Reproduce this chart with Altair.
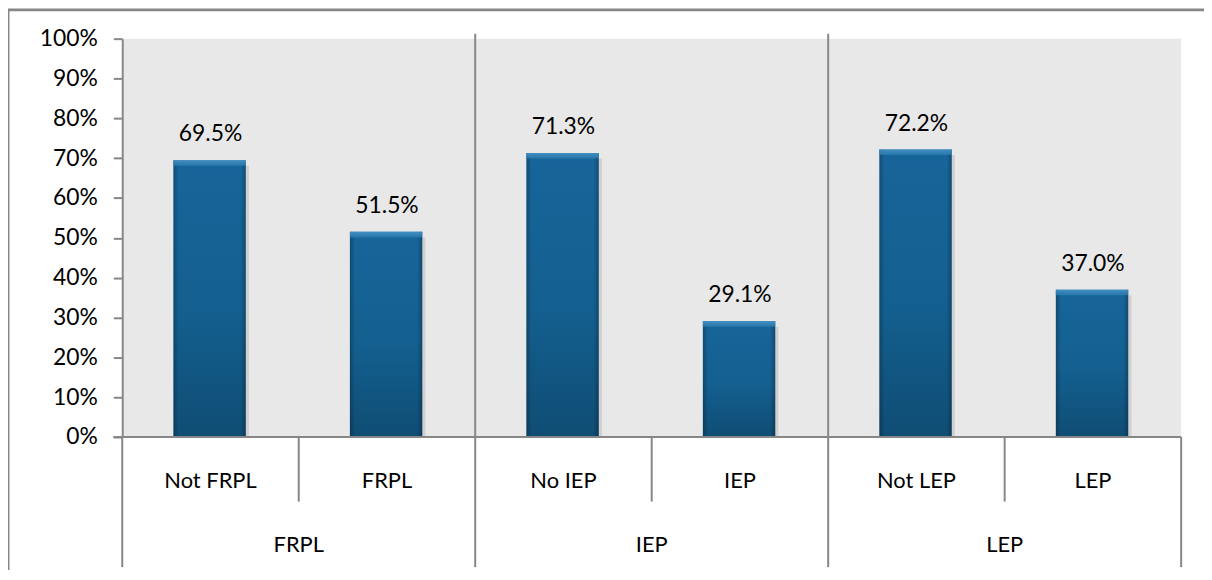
import altair as alt
import pandas as pd

subcats = ["Not FRPL", "FRPL", "No IEP", "IEP", "Not LEP", "LEP"]
values = [0.695, 0.515, 0.713, 0.291, 0.722, 0.370]
groups = ["FRPL", "IEP", "LEP"]
y_ticks = [0, 0.1, 0.2, 0.3, 0.4, 0.5, 0.6, 0.7, 0.8, 0.9, 1.0]

FONT = "Lato"
LINE = "#878787"
W, H = 1066, 401

bars = pd.DataFrame({
    "sub": subcats,
    "value": values,
    "idx": list(range(len(subcats))),
})
bars["lo"] = bars["idx"] + 0.29
bars["hi"] = bars["idx"] + 0.70
bars["slo"] = bars["lo"] + 0.012
bars["shi"] = bars["hi"] + 0.018
bars["mid"] = bars["idx"] + 0.5
bars["bevel"] = bars["value"] - 0.014
bars["zero"] = 0.0

grp = pd.DataFrame({"group": groups, "mid": [1.0, 3.0, 5.0]})
inner_div = pd.DataFrame({"b": [2, 4]})
below_div = pd.DataFrame({"b": [0, 2, 4, 6]})
sub_div = pd.DataFrame({"b": [1, 3, 5]})
edge = pd.DataFrame({"b": [0], "e": [6]})

xs = alt.Scale(domain=[0, 6], nice=False, zero=False)
ys = alt.Scale(domain=[0, 1], nice=False)

YAXIS = alt.Axis(
    values=y_ticks, format=".0%", title=None, grid=False,
    labelFont=FONT, labelFontSize=23, labelColor="#000000",
    domainColor=LINE, domainWidth=2, tickColor=LINE, tickWidth=2,
    tickSize=9, labelPadding=16,
)


def X(f):
    return alt.X(f, scale=xs, axis=None)


def Y(f):
    return alt.Y(f, scale=ys, axis=YAXIS)


base = alt.Chart(bars)

main_grad = alt.Gradient(
    gradient="linear",
    stops=[
        alt.GradientStop(color="#17659a", offset=0),
        alt.GradientStop(color="#135f8f", offset=0.55),
        alt.GradientStop(color="#0f4d74", offset=1),
    ],
    x1=0, x2=0, y1=0, y2=1,
)
side_grad = alt.Gradient(
    gradient="linear",
    stops=[
        alt.GradientStop(color="rgba(0,0,0,0.25)", offset=0),
        alt.GradientStop(color="rgba(0,0,0,0)", offset=0.07),
        alt.GradientStop(color="rgba(0,0,0,0)", offset=0.93),
        alt.GradientStop(color="rgba(0,0,0,0.25)", offset=1),
    ],
    x1=0, x2=1, y1=0, y2=0,
)
bevel_grad = alt.Gradient(
    gradient="linear",
    stops=[
        alt.GradientStop(color="#4a97c9", offset=0),
        alt.GradientStop(color="#2a79ad", offset=1),
    ],
    x1=0, x2=0, y1=0, y2=1,
)

shadow = base.mark_bar(color="#000000", opacity=0.10).encode(
    x=X("slo:Q"), x2="shi:Q", y=Y("bevel:Q"), y2="zero:Q",
)
main = base.mark_bar(color=main_grad).encode(
    x=X("lo:Q"), x2="hi:Q", y=Y("value:Q"), y2="zero:Q",
)
sides = base.mark_bar(color=side_grad).encode(
    x=X("lo:Q"), x2="hi:Q", y=Y("value:Q"), y2="zero:Q",
)
bevel = base.mark_bar(color=bevel_grad, opacity=0.85).encode(
    x=X("lo:Q"), x2="hi:Q", y=Y("value:Q"), y2="bevel:Q",
)

val_text = base.mark_text(
    font=FONT, fontSize=23, color="#000000", baseline="bottom", dy=-14
).encode(
    x=X("mid:Q"), y=Y("value:Q"),
    text=alt.Text("value:Q", format=".1%"),
)

sub_text = base.mark_text(
    font=FONT, fontSize=22, color="#000000", baseline="middle"
).encode(x=X("mid:Q"), y=alt.value(445), text="sub:N")

grp_text = alt.Chart(grp).mark_text(
    font=FONT, fontSize=22, color="#000000", baseline="middle"
).encode(x=X("mid:Q"), y=alt.value(510), text="group:N")

r_inner = alt.Chart(inner_div).mark_rule(color=LINE, strokeWidth=2).encode(
    x=X("b:Q"), y=alt.value(-5), y2=alt.value(H)
)
r_below = alt.Chart(below_div).mark_rule(color=LINE, strokeWidth=2).encode(
    x=X("b:Q"), y=alt.value(H), y2=alt.value(532)
)
r_sub = alt.Chart(sub_div).mark_rule(color=LINE, strokeWidth=2).encode(
    x=X("b:Q"), y=alt.value(H), y2=alt.value(466)
)
x_line = alt.Chart(edge).mark_rule(color=LINE, strokeWidth=2).encode(
    x=X("b:Q"), x2="e:Q", y=alt.value(H)
)
x_tick = alt.Chart(edge).mark_rule(color=LINE, strokeWidth=2).encode(
    x=X("b:Q"), y=alt.value(H), x2=alt.value(-9)
)
border = alt.Chart(edge).mark_rect(
    fill="transparent", stroke=LINE, strokeWidth=3
).encode(
    x=alt.value(-115), x2=alt.value(W + 300), y=alt.value(-29), y2=alt.value(H + 300)
)

chart = alt.layer(
    border, r_inner, shadow, main, sides, bevel, val_text,
    x_line, x_tick, r_below, r_sub, sub_text, grp_text,
).properties(
    width=W, height=H,
    autosize=alt.AutoSizeParams(type="none"),
    padding={"left": 115, "top": 29, "right": 23, "bottom": 132},
).configure_view(fill="#E8E8E8", stroke=None)

chart.save("out.html", embed_options={"renderer": "svg", "actions": False})
